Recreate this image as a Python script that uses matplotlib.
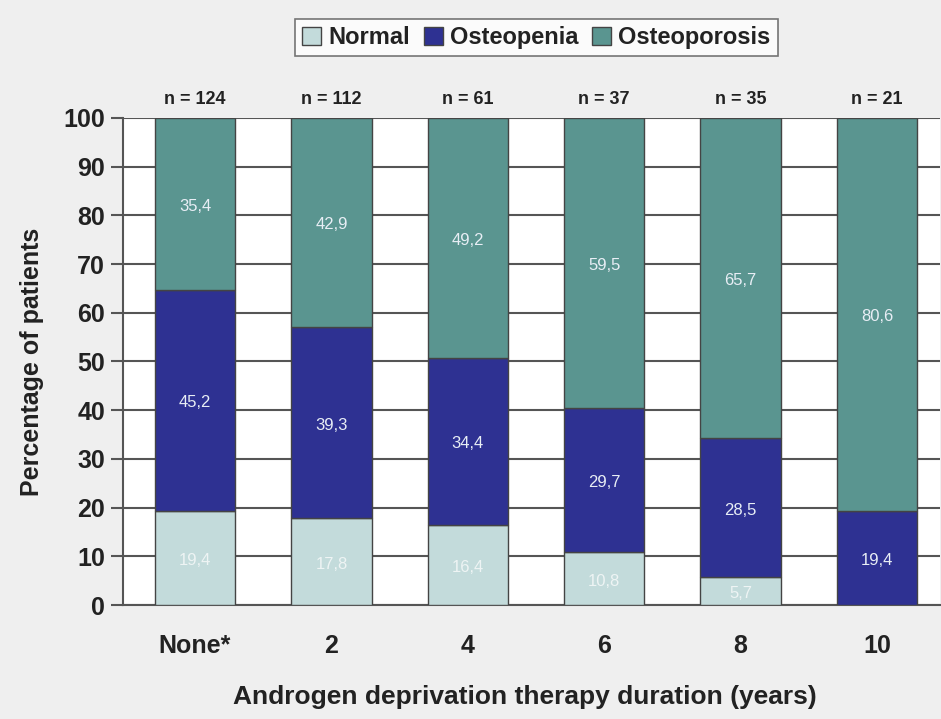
import matplotlib.pyplot as plt
import matplotlib.font_manager as fm
import numpy as np

categories = ["None*", "2", "4", "6", "8", "10"]
nLabels = ["n = 124", "n = 112", "n = 61", "n = 37", "n = 35", "n = 21"]
normal = [19.4, 17.8, 16.4, 10.8, 5.7, 0.0]
osteopenia = [45.2, 39.3, 34.4, 29.7, 28.5, 19.4]
osteoporosis = [35.4, 42.9, 49.2, 59.5, 65.7, 80.6]

colors = {"Normal": "#c3dbdb", "Osteopenia": "#2e3192", "Osteoporosis": "#5a9590"}

# pick a narrow bold font if there is one
installed = set(f.name for f in fm.fontManager.ttflist)
mainFont = "Liberation Sans Narrow" if "Liberation Sans Narrow" in installed else "Liberation Sans"
plt.rcParams['font.family'] = [mainFont, 'DejaVu Sans']

fig = plt.figure(figsize=(9.41, 7.19), dpi=100, facecolor="#efefef")
ax = fig.add_axes([0.1307, 0.1585, 0.868, 0.6776])
ax.set_facecolor("white")

x = np.arange(len(categories))
width = 0.59
edge = "#444444"

series = [("Normal", normal), ("Osteopenia", osteopenia), ("Osteoporosis", osteoporosis)]
bottom = np.zeros(len(categories))
for name, vals in series:
    vals = np.array(vals)
    ax.bar(x, vals, width, bottom=bottom, color=colors[name], edgecolor=edge,
           linewidth=1, label=name, zorder=3)
    for i, v in enumerate(vals):
        if v <= 0:
            continue
        txtColor = "#e8eef5" if name != "Normal" else "#eef4f4"
        ax.text(x[i], bottom[i] + v / 2 - 0.5, f"{v:.1f}".replace(".", ","),
                ha="center", va="center", fontsize=12, color=txtColor, zorder=4)
    bottom += vals

for i, lab in enumerate(nLabels):
    ax.text(x[i], 102, lab, ha="center", va="bottom", fontsize=13,
            fontweight="bold", color="#222222")

ax.set_xlim(-0.528, 5.46)
ax.set_ylim(0, 100)
ax.set_yticks(np.arange(0, 101, 10))
ax.yaxis.grid(True, color="#555555", linewidth=1.5, zorder=0)
ax.set_axisbelow(True)
ax.set_xticks(x)
ax.set_xticklabels(categories)
for sp in ["top", "right"]:
    ax.spines[sp].set_visible(False)
ax.spines["left"].set_color("#555555")
ax.spines["left"].set_linewidth(1.5)
ax.spines["bottom"].set_color("#555555")
ax.spines["bottom"].set_linewidth(1.5)
ax.tick_params(axis="y", length=9, width=1.5, color="#555555", labelsize=18, pad=4)
ax.tick_params(axis="x", length=0, labelsize=18, pad=21)
for lab in ax.get_xticklabels() + ax.get_yticklabels():
    lab.set_fontweight("bold")
    lab.set_color("#222222")

ax.set_ylabel("Percentage of patients", fontsize=18, fontweight="bold", color="#222222", labelpad=14)
ax.set_xlabel("Androgen deprivation therapy duration (years)", fontsize=19,
              fontweight="bold", color="#222222", labelpad=24)
ax.xaxis.set_label_coords(0.492, -0.165)

leg = fig.legend(loc="upper center", bbox_to_anchor=(0.57, 0.99), ncol=3, frameon=True,
                 fancybox=False, edgecolor="#555555", facecolor="white", fontsize=17,
                 handlelength=0.8, handleheight=0.8, handletextpad=0.3, columnspacing=0.6,
                 borderpad=0.3)
leg.get_frame().set_linewidth(1.2)
for t in leg.get_texts():
    t.set_fontweight("bold")
    t.set_color("#222222")

fig.savefig("out.png", dpi=100, facecolor=fig.get_facecolor())
